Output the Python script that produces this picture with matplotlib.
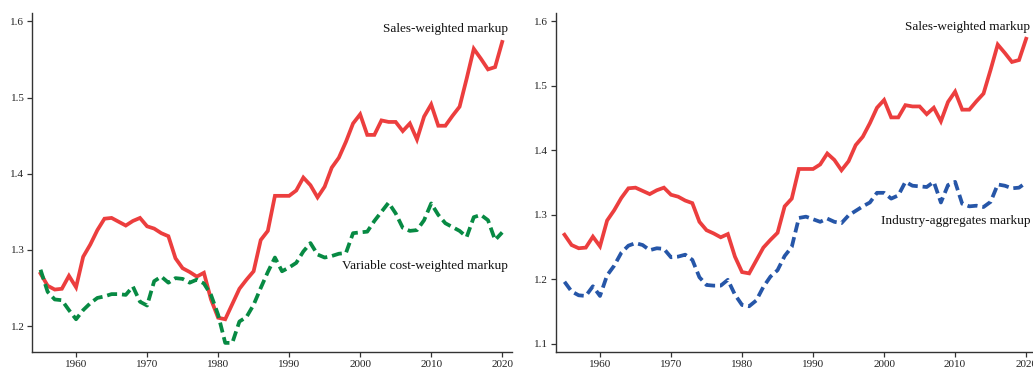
import matplotlib
matplotlib.use("Agg")
import matplotlib.pyplot as plt

plt.rcParams['font.family'] = ['Liberation Serif', 'DejaVu Serif']

years = list(range(1955, 2021))

sales_weighted = [
    1.269, 1.253, 1.248, 1.249, 1.266, 1.251, 1.291, 1.307, 1.326, 1.341,
    1.342, 1.337, 1.332, 1.338, 1.342, 1.331, 1.328, 1.322, 1.318, 1.289,
    1.276, 1.271, 1.265, 1.270, 1.235, 1.211, 1.209, 1.229, 1.249, 1.261,
    1.272, 1.313, 1.325, 1.371, 1.371, 1.371, 1.378, 1.395, 1.385, 1.369,
    1.383, 1.408, 1.421, 1.442, 1.466, 1.478, 1.451, 1.451, 1.470, 1.468,
    1.468, 1.456, 1.466, 1.445, 1.475, 1.491, 1.463, 1.463, 1.476, 1.488,
    1.525, 1.564, 1.551, 1.537, 1.540, 1.573,
]

variable_cost_weighted = [
    1.274, 1.245, 1.235, 1.234, 1.221, 1.209, 1.221, 1.230, 1.237, 1.239,
    1.242, 1.242, 1.241, 1.252, 1.232, 1.227, 1.259, 1.265, 1.257, 1.263,
    1.262, 1.257, 1.261, 1.256, 1.241, 1.215, 1.178, 1.178, 1.206, 1.212,
    1.228, 1.250, 1.271, 1.290, 1.272, 1.277, 1.283, 1.298, 1.309, 1.294,
    1.290, 1.292, 1.295, 1.296, 1.322, 1.323, 1.324, 1.338, 1.350, 1.362,
    1.348, 1.329, 1.325, 1.326, 1.339, 1.361, 1.346, 1.335, 1.330, 1.325,
    1.317, 1.343, 1.346, 1.339, 1.313, 1.323,
]

industry_aggregates = [
    1.196, 1.181, 1.175, 1.174, 1.189, 1.174, 1.206, 1.221, 1.241, 1.252,
    1.256, 1.253, 1.245, 1.248, 1.247, 1.234, 1.235, 1.238, 1.230, 1.203,
    1.191, 1.190, 1.190, 1.199, 1.176, 1.160, 1.158, 1.167, 1.188, 1.204,
    1.214, 1.236, 1.250, 1.295, 1.297, 1.293, 1.289, 1.294, 1.289, 1.287,
    1.299, 1.306, 1.313, 1.319, 1.334, 1.334, 1.325, 1.330, 1.351, 1.345,
    1.344, 1.343, 1.351, 1.319, 1.346, 1.351, 1.317, 1.313, 1.314, 1.312,
    1.320, 1.347, 1.345, 1.341, 1.342, 1.350,
]

x_ticks = [1960, 1970, 1980, 1990, 2000, 2010, 2020]
left_yticks = [1.2, 1.3, 1.4, 1.5, 1.6]
right_yticks = [1.1, 1.2, 1.3, 1.4, 1.5, 1.6]

RED = '#EC3E3E'
GREEN = '#078A43'
BLUE = '#2656A8'
AXC = '#333333'

fig = plt.figure(figsize=(10.33, 3.70), dpi=100)
ax1 = fig.add_axes([0.031, 0.0486, 0.4643, 0.9163])
ax2 = fig.add_axes([0.5382, 0.0486, 0.4643, 0.9163])


def style(ax, yticks, ylim):
    ax.set_xlim(1953.8, 2021.33)
    ax.set_ylim(*ylim)
    ax.set_xticks(x_ticks)
    ax.set_yticks(yticks)
    ax.set_yticklabels([f"{v:.1f}" for v in yticks])
    for s in ['top', 'right']:
        ax.spines[s].set_visible(False)
    for s in ['left', 'bottom']:
        ax.spines[s].set_color(AXC)
        ax.spines[s].set_linewidth(1.0)
    ax.tick_params(axis='both', direction='out', length=3.5, width=0.9,
                   color=AXC, labelsize=8, labelcolor='#222222', pad=2)
    ax.set_facecolor('none')


ax1.plot(years, sales_weighted, color=RED, lw=2.7, solid_joinstyle='miter')
ax1.plot(years, variable_cost_weighted, color=GREEN, lw=2.7, dashes=(2.7, 1.3))
style(ax1, left_yticks, (1.166, 1.611))
ax1.text(2020.8, 1.5905, 'Sales-weighted markup', ha='right', va='center',
         fontsize=9.5, color='#111111')
ax1.text(2020.8, 1.2795, 'Variable cost-weighted markup', ha='right', va='center',
         fontsize=9.5, color='#111111')

ax2.plot(years, sales_weighted, color=RED, lw=2.7, solid_joinstyle='miter')
ax2.plot(years, industry_aggregates, color=BLUE, lw=2.7, dashes=(2.7, 1.3))
style(ax2, right_yticks, (1.087, 1.613))
ax2.text(2020.6, 1.5905, 'Sales-weighted markup', ha='right', va='center',
         fontsize=9.5, color='#111111')
ax2.text(2020.6, 1.290, 'Industry-aggregates markup', ha='right', va='center',
         fontsize=9.5, color='#111111')

fig.savefig('out.png', dpi=100)
